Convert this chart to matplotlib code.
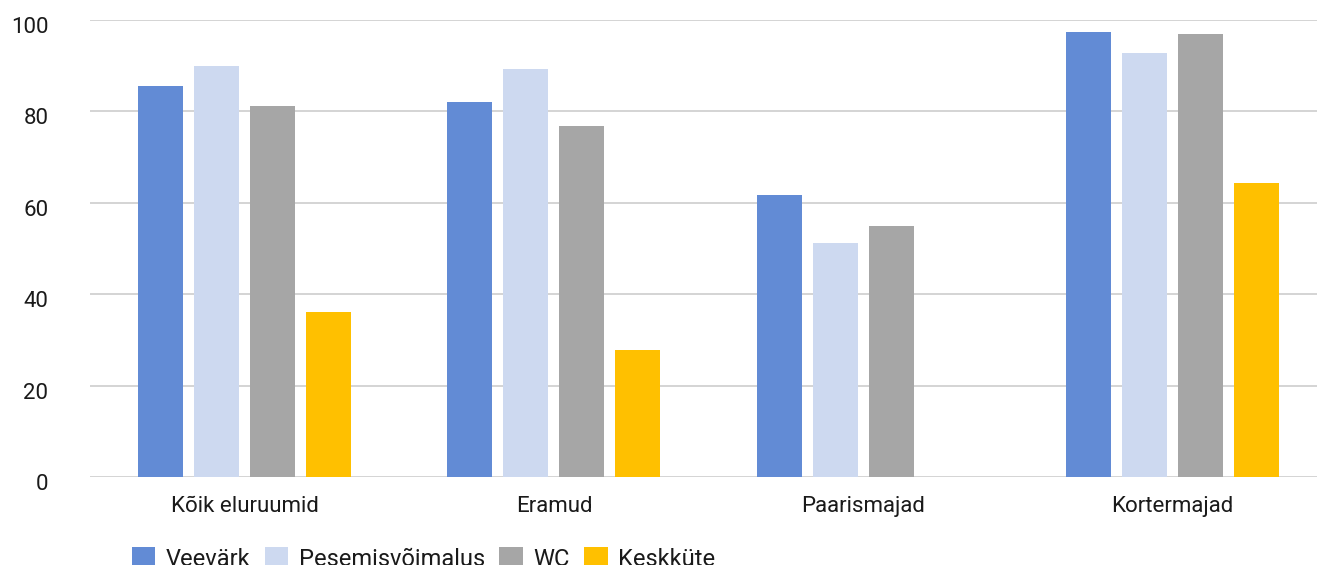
import matplotlib
matplotlib.use("Agg")
import matplotlib.pyplot as plt
import matplotlib.transforms as mtransforms
import numpy as np

plt.rcParams['font.family'] = ['Roboto', 'DejaVu Sans']

categories = ['Kõik eluruumid', 'Eramud', 'Paarismajad', 'Kortermajad']
series = ['Veevärk', 'Pesemisvõimalus', 'WC', 'Keskküte']
veevark = [85.6, 82.1, 61.7, 97.4]
pesemis = [89.9, 89.3, 51.2, 92.8]
wc = [81.2, 76.8, 54.9, 96.9]
keskkute = [36.1, 27.8, 0.0, 64.3]
colours = ['#628bd5', '#cdd9f0', '#a6a6a6', '#ffc000']

fig = plt.figure(figsize=(13.17, 5.65), dpi=100)
ax = fig.add_axes([0.0683, 0.1558, 0.9317, 0.8088])

x = np.arange(len(categories))
width = 0.1455
pitch = 0.181
for i, (name, vals) in enumerate(zip(series, [veevark, pesemis, wc, keskkute])):
    ax.bar(x + (i - 1.5) * pitch, vals, width, color=colours[i], label=name, zorder=3)

ax.set_xlim(-0.5, 3.467)
ax.set_ylim(0, 100)
ax.set_yticks([0, 20, 40, 60, 80, 100])
ax.set_xticks(x)
ax.set_xticklabels(categories)
ax.yaxis.grid(True, color='#d4d4d4', linewidth=1.4, zorder=0)
ax.set_axisbelow(True)
for s in ax.spines.values():
    s.set_visible(False)
ax.tick_params(axis='y', length=0, pad=30, labelsize=16, labelcolor='#1a1a1a')
ax.tick_params(axis='x', length=0, pad=14, labelsize=16, labelcolor='#1a1a1a')

off = mtransforms.ScaledTranslation(0, -0.05, fig.dpi_scale_trans)
for lab in ax.get_yticklabels():
    lab.set_transform(lab.get_transform() + off)

fig.legend(loc='upper left', bbox_to_anchor=(0.1, 0.032), ncol=4, frameon=False,
           fontsize=17, handlelength=1.0, handleheight=1.0, handletextpad=0.45,
           columnspacing=0.6, borderaxespad=0, borderpad=0, labelcolor='#1a1a1a')

fig.savefig('out.png', dpi=100)
